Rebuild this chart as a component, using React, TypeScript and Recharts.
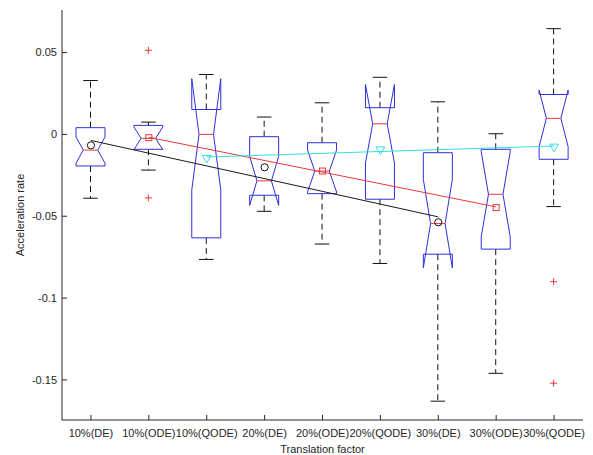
import React from "react";
import { ComposedChart, Bar, Line, XAxis, YAxis, Label } from "recharts";

const categories = [
  "10%(DE)", "10%(ODE)", "10%(QODE)",
  "20%(DE)", "20%(ODE)", "20%(QODE)",
  "30%(DE)", "30%(ODE)", "30%(QODE)",
];

// box statistics
const whiskerHigh = [0.0329, 0.0075, 0.0366, 0.0106, 0.0193, 0.0349, 0.0199, 0.0004, 0.0646];
const upperQuartile = [0.0041, 0.0055, 0.0152, -0.0014, -0.0051, 0.0163, -0.0112, -0.0091, 0.0244];
const medians = [-0.0096, -0.0024, 0.0, -0.0284, -0.0224, 0.0065, -0.0545, -0.0366, 0.0098];
const lowerQuartile = [-0.0193, -0.0091, -0.0632, -0.0372, -0.0362, -0.0396, -0.0732, -0.0701, -0.0152];
const whiskerLow = [-0.039, -0.0218, -0.0764, -0.047, -0.067, -0.0789, -0.163, -0.146, -0.0441];
const notchHalf = [0.008, 0.007, 0.034, 0.015, 0.0128, 0.024, 0.027, 0.026, 0.0173];
const outliers: number[][] = [[], [0.0514, -0.0388], [], [], [], [], [], [], [-0.09, -0.152]];

// group means and the trend lines drawn through them
const means = [-0.0067, -0.002, -0.015, -0.0201, -0.0224, -0.0098, -0.0537, -0.0447, -0.0081];
const deTrend = [-0.0037, null, null, null, null, null, -0.0504, null, null];
const odeTrend = [null, -0.0018, null, null, null, null, null, -0.0443, null];
const qodeTrend = [null, null, -0.0138, null, null, null, null, null, -0.0071];

const yTicks = [-0.15, -0.1, -0.05, 0, 0.05];
const yDomain = [-0.1745, 0.076];

const data = categories.map((name, i) => ({
  name,
  span: [
    Math.min(whiskerLow[i], ...outliers[i]),
    Math.max(whiskerHigh[i], ...outliers[i]),
  ],
  hi: whiskerHigh[i],
  q3: upperQuartile[i],
  med: medians[i],
  q1: lowerQuartile[i],
  lo: whiskerLow[i],
  notch: notchHalf[i],
  out: outliers[i],
  mean: means[i],
  de: deTrend[i],
  ode: odeTrend[i],
  qode: qodeTrend[i],
}));

const FONT = "'Liberation Sans', Arial, sans-serif";
const AXIS = "#262626";
const BLUE = "#2f2fd8";
const RED = "#e8383d";
const CYAN = "#33dede";

function NotchBox(props: any) {
  const { x, y, width, height, payload } = props;
  if (x == null || y == null) return <g />;
  const [vmin, vmax] = payload.span;
  const top = Math.min(y, y + height);
  const h = Math.abs(height);
  const py = (v: number) => top + ((vmax - v) / (vmax - vmin)) * h;
  const cx = x + width / 2;
  const w = width / 2;
  const { hi, q3, med, q1, lo, notch, out } = payload;
  const nhi = med + notch;
  const nlo = med - notch;
  const pts = [
    [cx - w, q3], [cx - w, nhi], [cx - w / 2, med], [cx - w, nlo], [cx - w, q1],
    [cx + w, q1], [cx + w, nlo], [cx + w / 2, med], [cx + w, nhi], [cx + w, q3],
  ]
    .map(([px, v]) => `${px},${py(v)}`)
    .join(" ");
  return (
    <g>
      <line x1={cx} x2={cx} y1={py(q3)} y2={py(hi)} stroke="#111" strokeDasharray="6 4" />
      <line x1={cx} x2={cx} y1={py(q1)} y2={py(lo)} stroke="#111" strokeDasharray="6 4" />
      <line x1={cx - w / 2} x2={cx + w / 2} y1={py(hi)} y2={py(hi)} stroke="#111" />
      <line x1={cx - w / 2} x2={cx + w / 2} y1={py(lo)} y2={py(lo)} stroke="#111" />
      <polygon points={pts} fill="none" stroke={BLUE} />
      <line x1={cx - w / 2} x2={cx + w / 2} y1={py(med)} y2={py(med)} stroke={RED} />
      {out.map((v: number, k: number) => (
        <g key={k} stroke={RED}>
          <line x1={cx - 3.5} x2={cx + 3.5} y1={py(v)} y2={py(v)} />
          <line x1={cx} x2={cx} y1={py(v) - 3.5} y2={py(v) + 3.5} />
        </g>
      ))}
    </g>
  );
}

function MeanMarker(props: any) {
  const { cx, cy, payload } = props;
  if (cx == null || cy == null || payload.mean == null) return <g />;
  if (payload.name.includes("(DE)")) {
    return <circle cx={cx} cy={cy} r={3.6} fill="none" stroke="#111" />;
  }
  if (payload.name.includes("(ODE)")) {
    return <rect x={cx - 3} y={cy - 3} width={6} height={6} fill="none" stroke={RED} />;
  }
  return (
    <polygon
      points={`${cx - 4.5},${cy - 3.5} ${cx + 4.5},${cy - 3.5} ${cx},${cy + 4}`}
      fill="none"
      stroke={CYAN}
    />
  );
}

function BottomTick(props: any) {
  const { x, y, payload } = props;
  return (
    <g>
      <line x1={x} x2={x} y1={y - 9} y2={y - 14} stroke={AXIS} />
      <text x={x} y={y} dy="0.71em" textAnchor="middle" fontSize={11} fontFamily={FONT} fill={AXIS}>
        {payload.value}
      </text>
    </g>
  );
}

function TopTick(props: any) {
  const { x, y } = props;
  return <line x1={x} x2={x} y1={y} y2={y + 5} stroke={AXIS} />;
}

function LeftTick(props: any) {
  const { x, y, payload } = props;
  return (
    <g>
      <line x1={x + 5} x2={x + 10} y1={y} y2={y} stroke={AXIS} />
      <text x={x} y={y} dy="0.355em" textAnchor="end" fontSize={11} fontFamily={FONT} fill={AXIS}>
        {payload.value}
      </text>
    </g>
  );
}

function RightTick(props: any) {
  const { x, y } = props;
  return <line x1={x} x2={x - 5} y1={y} y2={y} stroke={AXIS} />;
}

export default function App() {
  return (
    <div style={{ position: "absolute", left: 0, top: 0, background: "#fff" }}>
      <ComposedChart
        width={593}
        height={455}
        data={data}
        margin={{ top: 10, right: 10, bottom: 0, left: 0 }}
      >
        <XAxis
          dataKey="name"
          height={35}
          tickSize={0}
          tickMargin={9}
          tickLine={false}
          axisLine={{ stroke: AXIS }}
          tick={<BottomTick />}
          interval={0}
        >
          <Label
            content={(p: any) => {
              const vb = p.viewBox;
              return (
                <text x={vb.x + vb.width / 2} y={vb.y + 33} textAnchor="middle" fontSize={11} fontFamily={FONT} fill={AXIS}>
                  Translation factor
                </text>
              );
            }}
          />
        </XAxis>
        <XAxis
          xAxisId="top"
          dataKey="name"
          orientation="top"
          height={0}
          tickSize={0}
          tickMargin={0}
          tickLine={false}
          axisLine={{ stroke: AXIS }}
          tick={<TopTick />}
          interval={0}
        />
        <YAxis
          type="number"
          width={62}
          domain={yDomain}
          ticks={yTicks}
          allowDataOverflow
          tickSize={0}
          tickMargin={5}
          tickLine={false}
          axisLine={{ stroke: AXIS }}
          tick={<LeftTick />}
        >
          <Label
            content={(p: any) => {
              const vb = p.viewBox;
              const lx = 24;
              const ly = vb.y + vb.height / 2;
              return (
                <text x={lx} y={ly} transform={`rotate(-90, ${lx}, ${ly})`} textAnchor="middle" fontSize={11} fontFamily={FONT} fill={AXIS}>
                  Acceleration rate
                </text>
              );
            }}
          />
        </YAxis>
        <YAxis
          yAxisId="r"
          orientation="right"
          type="number"
          width={0}
          domain={yDomain}
          ticks={yTicks}
          allowDataOverflow
          tickSize={0}
          tickMargin={0}
          tickLine={false}
          axisLine={{ stroke: AXIS }}
          tick={<RightTick />}
        />
        <Bar dataKey="span" barSize={29} shape={(p: any) => <NotchBox {...p} />} isAnimationActive={false} />
        <Line dataKey="de" stroke="#1a1a1a" connectNulls dot={false} isAnimationActive={false} />
        <Line dataKey="ode" stroke={RED} connectNulls dot={false} isAnimationActive={false} />
        <Line dataKey="qode" stroke={CYAN} connectNulls dot={false} isAnimationActive={false} />
        <Line
          dataKey="mean"
          stroke="none"
          dot={(p: any) => <MeanMarker key={p.index} {...p} />}
          isAnimationActive={false}
        />
      </ComposedChart>
    </div>
  );
}
